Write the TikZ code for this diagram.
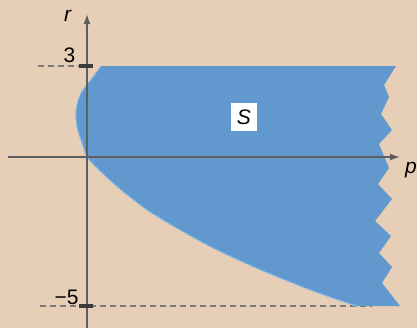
\documentclass[tikz,border=0pt]{standalone}
\usepackage{fontspec}
\setmainfont{Liberation Sans}
\usetikzlibrary{arrows.meta}

\definecolor{bgtan}{HTML}{E6CFB6}
\definecolor{regionblue}{HTML}{6198CE}
\definecolor{edgeblue}{HTML}{8CBDEA}
\definecolor{axisgray}{HTML}{5E5E5E}
\definecolor{guidegray}{HTML}{7A7A7A}
\definecolor{tickdark}{HTML}{3A3A3A}

\begin{document}
\begin{tikzpicture}[x=0.5pt, y=0.5pt, font=\fontsize{10.5}{12}\selectfont]

    % 背景 (417 x 328)
    \fill[bgtan] (-87,-171) rectangle (330,157);
    \useasboundingbox (-87,-171) rectangle (330,157);

    % 原点と軸の端点
    \coordinate (O) at (0,0);
    \coordinate (Pstart) at (-79,0);
    \coordinate (Pend) at (313,0);
    \coordinate (Rbot) at (0,-171);
    \coordinate (Rtop) at (0,143);

    % r = 3, r = -5
    \coordinate (T3) at (0,91);
    \coordinate (B5) at (0,-148.5);
    \coordinate (T3left) at (-49,91);
    \coordinate (B5left) at (-47,-148.5);
    \coordinate (B5right) at (285,-148.5);

    % 補助線
    \draw[guidegray, line width=1pt, dash pattern=on 3pt off 2pt] (T3left) -- (T3);
    \draw[guidegray, line width=1pt, dash pattern=on 3pt off 2pt] (B5left) -- (B5right);

    % 領域S
    \fill[regionblue] (14,91) -- (309,91) -- (297,72) -- (302,60) -- (294,43)
        -- (305,27) -- (292,13) -- (302,-11) -- (291,-27) -- (305,-42)
        -- (288,-64) -- (304,-79) -- (292,-96) -- (305,-110) -- (295,-126)
        -- (313,-149) -- (270,-149)
        -- plot[smooth] coordinates {(260,-146) (226,-134) (193,-121) (160,-107)
        (126,-91) (93,-73) (60,-53) (33,-32) (13,-14) (0,0) (-5,14) (-10,30)
        (-11,47) (-6,64) (6,80) (14,91)} -- cycle;

    % 境界 (含まない)
    \draw[edgeblue, line width=0.6pt, dash pattern=on 2.5pt off 1pt]
        plot[smooth] coordinates {(270,-149) (260,-146) (226,-134) (193,-121) (160,-107)
        (126,-91) (93,-73) (60,-53) (33,-32) (13,-14) (0,0) (-5,14) (-10,30)
        (-11,47) (-6,64) (6,80) (14,91)};

    % 座標軸
    \draw[axisgray, line width=0.8pt, -{Latex[length=5pt,width=3.5pt]}] (Pstart) -- (Pend);
    \draw[axisgray, line width=0.8pt, -{Latex[length=5pt,width=3.5pt]}] (Rbot) -- (Rtop);

    % 目盛り
    \fill[tickdark] (-8,89) rectangle (6,93);
    \fill[tickdark] (-8,-150.5) rectangle (6,-146.5);

    % ラベル
    \node[anchor=base] (rlab) at (-19,136) {\textit{r}};
    \node[anchor=base] (plab) at (324,-16) {\textit{p}};
    \node[anchor=base] (lab3) at (-17.5,95) {3};
    \node[anchor=base] (lab5) at (-20.5,-147) {−5};
    \node[fill=white, inner sep=0pt, minimum width=13pt, minimum height=14pt] (Slab) at (157,40) {\textit{S}};

\end{tikzpicture}
\end{document}
